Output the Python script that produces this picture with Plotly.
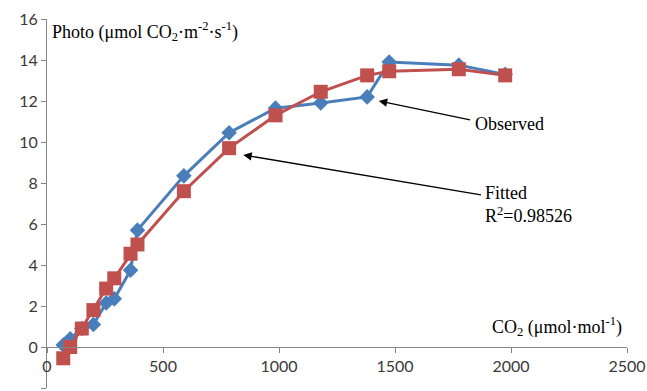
import plotly.graph_objects as go

co2 = [70, 100, 150, 200, 255, 290, 360, 390, 590, 785, 985, 1180, 1380, 1475, 1775, 1975]
observed = [0.1, 0.4, 0.9, 1.1, 2.15, 2.35, 3.75, 5.7, 8.35, 10.45, 11.65, 11.9, 12.2, 13.9, 13.75, 13.3]
fitted = [-0.55, 0.0, 0.9, 1.8, 2.85, 3.35, 4.55, 5.0, 7.6, 9.7, 11.3, 12.45, 13.25, 13.45, 13.55, 13.25]

x_ticks = [0, 500, 1000, 1500, 2000, 2500]
y_ticks = [-2, 0, 2, 4, 6, 8, 10, 12, 14, 16]
y_tick_text = ["-2", "0", "2", "4", "6", "8", "10", "12", "14", "16"]

BLUE = "#4A7EBB"
RED = "#C0504D"
AXIS = "#868686"
SERIF = "Liberation Serif"

fig = go.Figure()
fig.add_trace(go.Scatter(
    x=co2, y=observed, mode="lines+markers", name="Observed",
    line=dict(color=BLUE, width=3),
    marker=dict(symbol="diamond", size=12, color=BLUE),
))
fig.add_trace(go.Scatter(
    x=co2, y=fitted, mode="lines+markers", name="Fitted",
    line=dict(color=RED, width=3),
    marker=dict(symbol="square", size=14, color=RED),
))

fig.update_layout(
    width=647, height=391,
    margin=dict(l=47, r=20, t=19, b=3, autoexpand=False),
    paper_bgcolor="white", plot_bgcolor="white",
    showlegend=False,
    font=dict(family="Lato", size=16, color="#3a3a3a"),
    xaxis=dict(
        range=[0, 2500], tickvals=x_ticks, ticktext=[str(v) for v in x_ticks],
        showgrid=False, zeroline=False, showline=True, linecolor=AXIS, linewidth=1,
        ticks="outside", ticklen=5, tickcolor=AXIS,
        anchor="free", position=2 / 18, automargin=False,
    ),
    yaxis=dict(
        range=[-2, 16], tickvals=y_ticks, ticktext=y_tick_text,
        showgrid=False, zeroline=False, showline=True, linecolor=AXIS, linewidth=1,
        ticks="outside", ticklen=5, tickcolor=AXIS, automargin=False,
    ),
)

# axis titles
fig.add_annotation(
    xref="paper", yref="paper", x=0.005, y=0.965, xanchor="left", yanchor="middle",
    text="Photo (μmol CO<sub>2</sub>·m<sup>-2</sup>·s<sup>-1</sup>)", showarrow=False,
    font=dict(family=SERIF, size=18, color="black"),
)
fig.add_annotation(
    x=2485, y=1.0, xref="x", yref="y", xanchor="right", yanchor="middle",
    text="CO<sub>2</sub> (μmol·mol<sup>-1</sup>)", showarrow=False,
    font=dict(family=SERIF, size=18, color="black"),
)

# arrows
fig.add_annotation(
    x=1430, y=12.0, ax=1830, ay=11.07, xref="x", yref="y", axref="x", ayref="y",
    text="", showarrow=True, arrowhead=2, arrowsize=1.3, arrowwidth=1.3, arrowcolor="black",
)
fig.add_annotation(
    x=846, y=9.37, ax=1877, ay=7.41, xref="x", yref="y", axref="x", ayref="y",
    text="", showarrow=True, arrowhead=2, arrowsize=1.3, arrowwidth=1.3, arrowcolor="black",
)
fig.add_annotation(
    x=1835, y=10.9, xref="x", yref="y", xanchor="left", yanchor="middle",
    text="Observed", showarrow=False, font=dict(family=SERIF, size=18, color="black"),
)
fig.add_annotation(
    x=1880, y=8.1, xref="x", yref="y", xanchor="left", yanchor="top",
    text="Fitted<br>R<sup>2</sup>=0.98526", showarrow=False, align="left",
    font=dict(family=SERIF, size=18, color="black"),
)

fig.write_html(
    "out.html",
    config={"displayModeBar": False},
    post_script="document.body.style.margin='0';document.body.style.overflow='hidden';",
)
